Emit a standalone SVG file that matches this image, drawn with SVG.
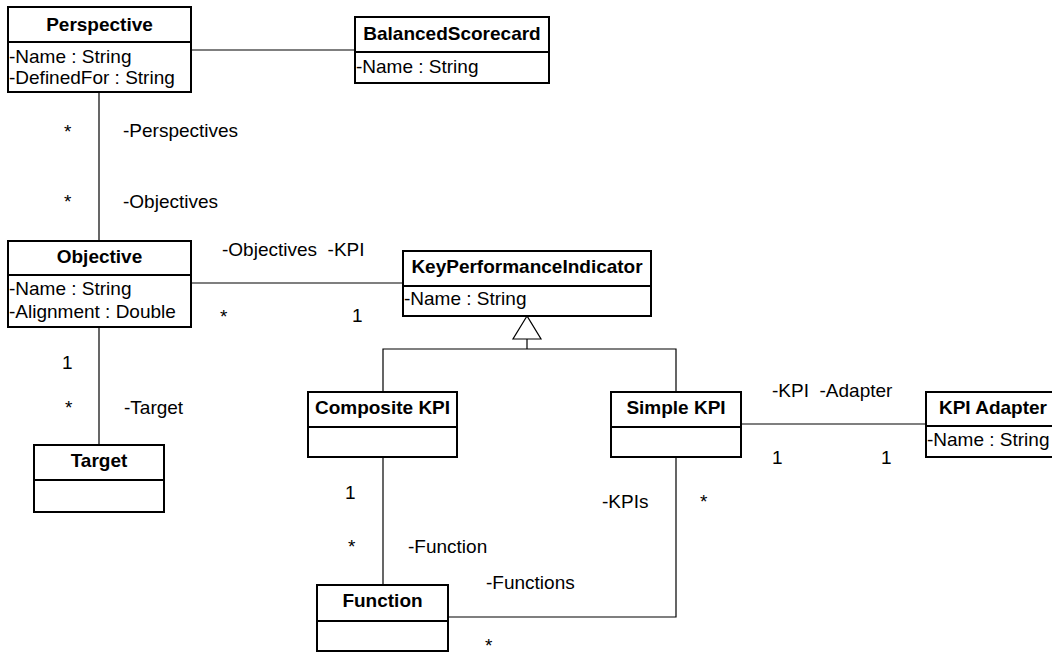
<svg xmlns="http://www.w3.org/2000/svg" width="1052" height="652" viewBox="0 0 1052 652">
<style>
.box{fill:#fff;stroke:#000;stroke-width:2}
.div{stroke:#000;stroke-width:2}
.con{fill:none;stroke:#000;stroke-width:1.2}
text{font-family:"Liberation Sans",Arial,sans-serif;font-size:19px;fill:#000;white-space:pre}
.t{font-weight:bold;text-anchor:middle}
</style>
<rect width="1052" height="652" fill="#fff"/>
<g id="connectors">
<line class="con" x1="191" y1="50" x2="355" y2="50"/>
<line class="con" x1="99" y1="92" x2="99" y2="241"/>
<line class="con" x1="191" y1="283" x2="403" y2="283"/>
<line class="con" x1="99" y1="327" x2="99" y2="445"/>
<line class="con" x1="741" y1="424" x2="926" y2="424"/>
<line class="con" x1="383" y1="457" x2="383" y2="585"/>
<polyline class="con" points="448,617 676,617 676,457"/>
<polyline class="con" points="383,392 383,349 676,349 676,392"/>
<line class="con" x1="527" y1="339" x2="527" y2="349"/>
<polygon class="con" points="527,316 513,339 541,339" fill="#fff"/>
</g>
<g id="labels">
<text x="64" y="138">*</text>
<text x="123" y="137">-Perspectives</text>
<text x="64" y="208">*</text>
<text x="123" y="208">-Objectives</text>
<text x="222" y="256" xml:space="preserve">-Objectives  -KPI</text>
<text x="220" y="323">*</text>
<text x="352" y="322">1</text>
<text x="62" y="369">1</text>
<text x="65" y="414">*</text>
<text x="124" y="414">-Target</text>
<text x="772" y="397" xml:space="preserve">-KPI  -Adapter</text>
<text x="772" y="464">1</text>
<text x="881" y="464">1</text>
<text x="345" y="499">1</text>
<text x="348" y="553">*</text>
<text x="408" y="553">-Function</text>
<text x="486" y="589">-Functions</text>
<text x="602" y="508">-KPIs</text>
<text x="700" y="508">*</text>
<text x="485" y="652">*</text>
</g>
<g id="Perspective">
<rect class="box" x="8" y="7" width="183" height="85"/>
<line class="div" x1="8" y1="42" x2="191" y2="42"/>
<text class="t" x="99.5" y="31">Perspective</text>
<text x="9" y="63">-Name : String</text>
<text x="9" y="84">-DefinedFor : String</text>
</g>
<g id="BalancedScorecard">
<rect class="box" x="355" y="17" width="194" height="66"/>
<line class="div" x1="355" y1="52" x2="549" y2="52"/>
<text class="t" x="452" y="40">BalancedScorecard</text>
<text x="356" y="73">-Name : String</text>
</g>
<g id="Objective">
<rect class="box" x="8" y="241" width="183" height="86"/>
<line class="div" x1="8" y1="275" x2="191" y2="275"/>
<text class="t" x="99.5" y="263">Objective</text>
<text x="9" y="295">-Name : String</text>
<text x="9" y="318">-Alignment : Double</text>
</g>
<g id="Target">
<rect class="box" x="34" y="445" width="130" height="67"/>
<line class="div" x1="34" y1="480" x2="164" y2="480"/>
<text class="t" x="99" y="467">Target</text>
</g>
<g id="KeyPerformanceIndicator">
<rect class="box" x="403" y="251" width="248" height="65"/>
<line class="div" x1="403" y1="286" x2="651" y2="286"/>
<text class="t" x="527" y="273">KeyPerformanceIndicator</text>
<text x="404" y="305">-Name : String</text>
</g>
<g id="CompositeKPI">
<rect class="box" x="308" y="392" width="149" height="65"/>
<line class="div" x1="308" y1="427" x2="457" y2="427"/>
<text class="t" x="382.5" y="414">Composite KPI</text>
</g>
<g id="SimpleKPI">
<rect class="box" x="611" y="392" width="130" height="65"/>
<line class="div" x1="611" y1="427" x2="741" y2="427"/>
<text class="t" x="676" y="414">Simple KPI</text>
</g>
<g id="KPIAdapter">
<rect class="box" x="926" y="392" width="134" height="65"/>
<line class="div" x1="926" y1="426" x2="1060" y2="426"/>
<text class="t" x="993" y="414">KPI Adapter</text>
<text x="927" y="446">-Name : String</text>
</g>
<g id="Function">
<rect class="box" x="317" y="585" width="131" height="66"/>
<line class="div" x1="317" y1="621" x2="448" y2="621"/>
<text class="t" x="382.5" y="607">Function</text>
</g>
</svg>
